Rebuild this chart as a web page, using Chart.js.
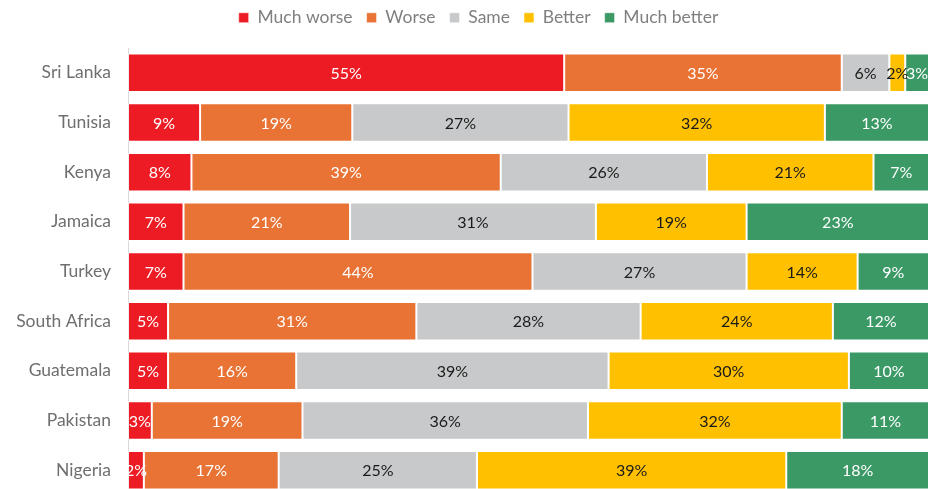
<!DOCTYPE html>
<html>
<head>
<meta charset="utf-8">
<script src="https://cdn.jsdelivr.net/npm/chart.js@4"></script>
<style>
  html, body { margin: 0; padding: 0; background: #fff; overflow: hidden; }
  canvas { display: block; }
</style>
</head>
<body>
<canvas id="chart" width="937" height="496"></canvas>
<script>
'use strict';

// Survey answers per country, in percent (as labelled)
const countries   = ['Sri Lanka', 'Tunisia', 'Kenya', 'Jamaica', 'Turkey', 'South Africa', 'Guatemala', 'Pakistan', 'Nigeria'];
const muchWorse   = [55, 9, 8, 7, 7, 5, 5, 3, 2];
const worse       = [35, 19, 39, 21, 44, 31, 16, 19, 17];
const same        = [6, 27, 26, 31, 27, 28, 39, 36, 25];
const better      = [2, 32, 21, 19, 14, 24, 30, 32, 39];
const muchBetter  = [3, 13, 7, 23, 9, 12, 10, 11, 18];
const seriesNames = ['Much worse', 'Worse', 'Same', 'Better', 'Much better'];

const series  = [muchWorse, worse, same, better, muchBetter];
const colors  = ['#ED1C24', '#E87335', '#C8C9CA', '#FFC000', '#3B9966'];
const inkOn   = ['#ffffff', '#ffffff', '#1a1a1a', '#1a1a1a', '#ffffff'];
const FONT    = 'Lato, "Open Sans", sans-serif';

// rounded labels don't always add up to 100, so each row is drawn as its share
const rowTotals = countries.map((c, i) => series.reduce((s, arr) => s + arr[i], 0));

const barLabels = {
  id: 'barLabels',
  afterDatasetsDraw(chart) {
    const ctx = chart.ctx;
    ctx.save();
    ctx.font = '16px ' + FONT;
    ctx.textAlign = 'center';
    ctx.textBaseline = 'middle';
    chart.data.datasets.forEach((ds, di) => {
      const meta = chart.getDatasetMeta(di);
      if (meta.hidden) return;
      meta.data.forEach((bar, i) => {
        const cx = (bar.x + bar.base) / 2;
        ctx.fillStyle = inkOn[di];
        ctx.fillText(ds.raw[i] + '%', cx, bar.y + 1);
      });
    });
    ctx.restore();
  }
};

// fixed gap between legend and bars, legend nudged right
const legendGap = {
  id: 'legendGap',
  beforeInit(chart) {
    const fit = chart.legend.fit;
    chart.legend.fit = function () {
      fit.call(this);
      this.height = 53;
    };
  },
  afterUpdate(chart) {
    chart.legend.left += 14;
    chart.legend.right += 14;
  }
};

new Chart(document.getElementById('chart'), {
  type: 'bar',
  data: {
    labels: countries,
    datasets: series.map((arr, k) => ({
      label: seriesNames[k],
      raw: arr,
      data: arr.map((v, i) => v / rowTotals[i] * 100),
      backgroundColor: colors[k],
      borderColor: 'rgba(255,255,255,0.55)',
      borderWidth: 1,
      borderSkipped: false,
      categoryPercentage: 0.775,
      barPercentage: 1,
    }))
  },
  options: {
    indexAxis: 'y',
    responsive: false,
    animation: false,
    layout: { padding: { left: 0, right: 8, top: -5, bottom: 1 } },
    plugins: {
      legend: {
        position: 'top',
        labels: {
          color: '#7f7f7f', boxWidth: 10, boxHeight: 10, padding: 14,
          font: { family: FONT, size: 17.5 }
        }
      },
      tooltip: { enabled: false }
    },
    scales: {
      x: {
        stacked: true, min: 0, max: 100, display: false,
        grid: { display: false }
      },
      y: {
        stacked: true,
        grid: { display: false, drawTicks: false },
        border: { display: true, color: '#d9d9d9', width: 1 },
        ticks: {
          color: '#6f6f6f', padding: 17,
          font: { family: FONT, size: 17.5 }
        },
        afterFit(scale) {
          scale.width = 128;
          scale.paddingTop = 0;
          scale.paddingBottom = 0;
        }
      }
    }
  },
  plugins: [barLabels, legendGap]
});
</script>
</body>
</html>
